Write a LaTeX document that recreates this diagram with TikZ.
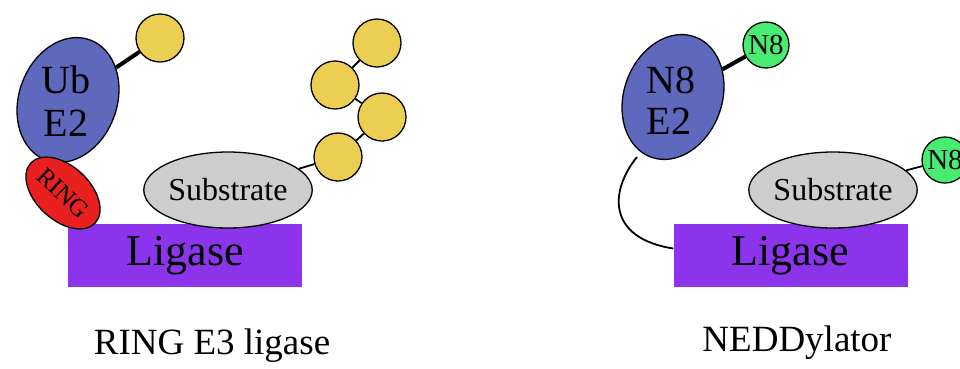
\documentclass[tikz,border=0pt]{standalone}
\usepackage{fontspec}
\setmainfont{Liberation Serif}
\usetikzlibrary{shapes.geometric,backgrounds}

\definecolor{e2blue}{RGB}{94,104,188}
\definecolor{ringred}{RGB}{232,32,32}
\definecolor{ubyellow}{RGB}{236,206,82}
\definecolor{neddgreen}{RGB}{72,236,112}
\definecolor{subgray}{RGB}{205,205,205}
\definecolor{ligpurple}{RGB}{140,52,236}

\newcommand{\fs}[1]{\fontsize{#1}{#1}\selectfont}

\tikzset{
  outl/.style={draw=black, line width=1.3pt},
  e2body/.style={outl, ellipse, fill=e2blue, inner sep=0pt,
    minimum width=98pt, minimum height=128pt, rotate=-20},
  ringbody/.style={outl, ellipse, fill=ringred, inner sep=0pt,
    minimum width=88pt, minimum height=54pt, rotate=-43, font=\fs{25}},
  substratebody/.style={outl, ellipse, fill=subgray, inner sep=0pt,
    minimum width=166pt, minimum height=76pt, font=\fs{32}},
  ligasebox/.style={rectangle, fill=ligpurple, inner sep=0pt,
    minimum width=234pt, minimum height=63pt, font=\fs{44}},
  ubball/.style={outl, circle, fill=ubyellow, inner sep=0pt, minimum size=48pt},
  n8ball/.style={outl, circle, fill=neddgreen, inner sep=0pt, minimum size=46pt, font=\fs{29}},
  bigtxt/.style={font=\fs{40}, inner sep=0pt},
  caption/.style={font=\fs{37}, inner sep=0pt},
  link/.style={draw=black, line width=1.8pt},
  thicklink/.style={draw=black, line width=4pt},
}

\begin{document}
\begin{tikzpicture}[x=1pt, y=-1pt]
\useasboundingbox (0,0) rectangle (960,368);
\clip (0,0) rectangle (960,368);

% ---------- RING E3 ligase ----------
\node[ligasebox] (lig1) at (185,255.5) {Ligase};
\node[substratebody] (sub1) at (228,190) {Substrate};
\node[e2body] (ube2) at (68,100) {};
\node[bigtxt] (ubtxt) at (66,80) {Ub};
\node[bigtxt] (e2txt) at (66,123) {E2};
\node[ringbody] (ring) at (63,193) {RING};
\node[ubball] (ub0) at (160,38) {};
\node[ubball] (ub1) at (377,43) {};
\node[ubball] (ub2) at (335,85) {};
\node[ubball] (ub3) at (382,117) {};
\node[ubball] (ub4) at (338,157) {};

% ---------- NEDDylator ----------
\node[ligasebox] (lig2) at (790.5,255.5) {Ligase};
\node[substratebody] (sub2) at (833,190) {Substrate};
\node[e2body] (n8e2) at (673,97) {};
\node[bigtxt] (n8txt) at (671,80) {N8};
\node[bigtxt] (n8e2txt) at (669,121) {E2};
\node[n8ball] (n8a) at (766,45) {N8};
\node[n8ball] (n8b) at (945,160) {N8};
\coordinate (e2tail) at (637,157);

% captions
\node[caption] (cap1) at (212,346) {RING E3 ligase};
\node[caption] (cap2) at (797,343) {NEDDylator};

% ---------- connectors behind the bodies ----------
\begin{scope}[on background layer]
  \draw[thicklink] (ube2) -- (ub0);
  \draw[link] (sub1) -- (ub4);
  \draw[link] (ub4) -- (ub3);
  \draw[link] (ub3) -- (ub2);
  \draw[link] (ub2) -- (ub1);
  \draw[thicklink] (n8e2) -- (n8a);
  \draw[link] (sub2) -- (n8b);
  \draw[link] (e2tail) .. controls (610,190) and (606,238) .. ([yshift=7pt]lig2.west);
\end{scope}
\end{tikzpicture}
\end{document}
